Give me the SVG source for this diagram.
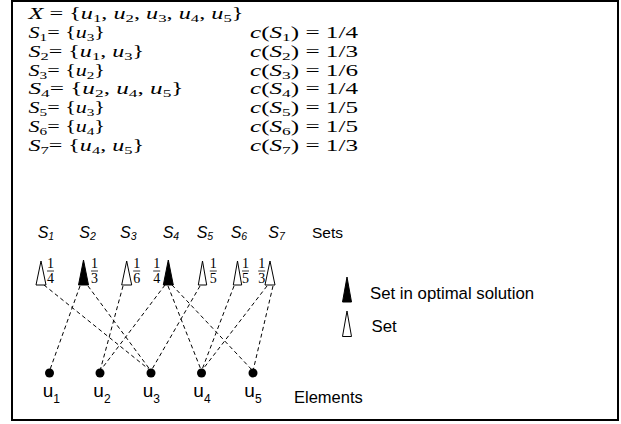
<svg xmlns="http://www.w3.org/2000/svg" width="621" height="424" viewBox="0 0 621 424">
<style>
.m{font-family:"Liberation Serif","Times New Roman",serif;font-size:16px;fill:#000}
.i{font-style:italic}
.sb{font-size:11px}
.sl{font-family:"Liberation Sans",Arial,sans-serif;font-style:italic;font-size:16px;fill:#000}
.sls{font-size:10.5px}
.fr{font-family:"Liberation Serif","Times New Roman",serif;font-size:14px;text-anchor:middle;fill:#000}
.bar{stroke:#000;stroke-width:0.8}
.tw{fill:#fff;stroke:#000;stroke-width:1}
.tb{fill:#000;stroke:#000;stroke-width:1}
.ul{font-family:"Liberation Sans",Arial,sans-serif;font-size:19px;fill:#000}
.uls{font-size:12px}
.lb{font-family:"Liberation Sans",Arial,sans-serif;font-size:16.5px;fill:#000}
.e{stroke:#000;stroke-width:1;stroke-dasharray:4,3;fill:none}
</style>
<rect x="12" y="1" width="606" height="419" fill="#fff" stroke="#000" stroke-width="2"/>

<g id="definitions">
<text class="m" x="28.5" y="19" textLength="215" lengthAdjust="spacingAndGlyphs"><tspan class="i">X</tspan> = {<tspan class="i">u</tspan><tspan class="sb" dy="3">1</tspan><tspan dy="-3">, </tspan><tspan class="i">u</tspan><tspan class="sb" dy="3">2</tspan><tspan dy="-3">, </tspan><tspan class="i">u</tspan><tspan class="sb" dy="3">3</tspan><tspan dy="-3">, </tspan><tspan class="i">u</tspan><tspan class="sb" dy="3">4</tspan><tspan dy="-3">, </tspan><tspan class="i">u</tspan><tspan class="sb" dy="3">5</tspan><tspan dy="-3">}</tspan></text>

<text class="m" x="28.5" y="37.9" textLength="76.5" lengthAdjust="spacingAndGlyphs"><tspan class="i">S</tspan><tspan class="sb" dy="3">1</tspan><tspan dy="-3">= {</tspan><tspan class="i">u</tspan><tspan class="sb" dy="3">3</tspan><tspan dy="-3">}</tspan></text>
<text class="m" x="28.5" y="56.7" textLength="115.5" lengthAdjust="spacingAndGlyphs"><tspan class="i">S</tspan><tspan class="sb" dy="3">2</tspan><tspan dy="-3">= {</tspan><tspan class="i">u</tspan><tspan class="sb" dy="3">1</tspan><tspan dy="-3">, </tspan><tspan class="i">u</tspan><tspan class="sb" dy="3">3</tspan><tspan dy="-3">}</tspan></text>
<text class="m" x="28.5" y="75.6" textLength="76.5" lengthAdjust="spacingAndGlyphs"><tspan class="i">S</tspan><tspan class="sb" dy="3">3</tspan><tspan dy="-3">= {</tspan><tspan class="i">u</tspan><tspan class="sb" dy="3">2</tspan><tspan dy="-3">}</tspan></text>
<text class="m" x="28.5" y="94.4" textLength="155" lengthAdjust="spacingAndGlyphs"><tspan class="i">S</tspan><tspan class="sb" dy="3">4</tspan><tspan dy="-3">= {</tspan><tspan class="i">u</tspan><tspan class="sb" dy="3">2</tspan><tspan dy="-3">, </tspan><tspan class="i">u</tspan><tspan class="sb" dy="3">4</tspan><tspan dy="-3">, </tspan><tspan class="i">u</tspan><tspan class="sb" dy="3">5</tspan><tspan dy="-3">}</tspan></text>
<text class="m" x="28.5" y="113.3" textLength="76.5" lengthAdjust="spacingAndGlyphs"><tspan class="i">S</tspan><tspan class="sb" dy="3">5</tspan><tspan dy="-3">= {</tspan><tspan class="i">u</tspan><tspan class="sb" dy="3">3</tspan><tspan dy="-3">}</tspan></text>
<text class="m" x="28.5" y="132.1" textLength="76.5" lengthAdjust="spacingAndGlyphs"><tspan class="i">S</tspan><tspan class="sb" dy="3">6</tspan><tspan dy="-3">= {</tspan><tspan class="i">u</tspan><tspan class="sb" dy="3">4</tspan><tspan dy="-3">}</tspan></text>
<text class="m" x="28.5" y="151" textLength="115.5" lengthAdjust="spacingAndGlyphs"><tspan class="i">S</tspan><tspan class="sb" dy="3">7</tspan><tspan dy="-3">= {</tspan><tspan class="i">u</tspan><tspan class="sb" dy="3">4</tspan><tspan dy="-3">, </tspan><tspan class="i">u</tspan><tspan class="sb" dy="3">5</tspan><tspan dy="-3">}</tspan></text>

<text class="m" x="250" y="37.9" textLength="108" lengthAdjust="spacingAndGlyphs"><tspan class="i">c</tspan>(<tspan class="i">S</tspan><tspan class="sb" dy="3">1</tspan><tspan dy="-3">) = 1/4</tspan></text>
<text class="m" x="250" y="56.7" textLength="108" lengthAdjust="spacingAndGlyphs"><tspan class="i">c</tspan>(<tspan class="i">S</tspan><tspan class="sb" dy="3">2</tspan><tspan dy="-3">) = 1/3</tspan></text>
<text class="m" x="250" y="75.6" textLength="108" lengthAdjust="spacingAndGlyphs"><tspan class="i">c</tspan>(<tspan class="i">S</tspan><tspan class="sb" dy="3">3</tspan><tspan dy="-3">) = 1/6</tspan></text>
<text class="m" x="250" y="94.4" textLength="108" lengthAdjust="spacingAndGlyphs"><tspan class="i">c</tspan>(<tspan class="i">S</tspan><tspan class="sb" dy="3">4</tspan><tspan dy="-3">) = 1/4</tspan></text>
<text class="m" x="250" y="113.3" textLength="108" lengthAdjust="spacingAndGlyphs"><tspan class="i">c</tspan>(<tspan class="i">S</tspan><tspan class="sb" dy="3">5</tspan><tspan dy="-3">) = 1/5</tspan></text>
<text class="m" x="250" y="132.1" textLength="108" lengthAdjust="spacingAndGlyphs"><tspan class="i">c</tspan>(<tspan class="i">S</tspan><tspan class="sb" dy="3">6</tspan><tspan dy="-3">) = 1/5</tspan></text>
<text class="m" x="250" y="151" textLength="108" lengthAdjust="spacingAndGlyphs"><tspan class="i">c</tspan>(<tspan class="i">S</tspan><tspan class="sb" dy="3">7</tspan><tspan dy="-3">) = 1/3</tspan></text>
</g>

<g id="connectors">
<line class="e" x1="44" y1="285" x2="151" y2="371"/>
<line class="e" x1="80" y1="286" x2="49.5" y2="371"/>
<line class="e" x1="88" y1="286" x2="151" y2="371"/>
<line class="e" x1="123" y1="286" x2="100" y2="371"/>
<line class="e" x1="165" y1="285" x2="100" y2="371"/>
<line class="e" x1="168" y1="286" x2="201.5" y2="371"/>
<line class="e" x1="172" y1="285" x2="253" y2="371"/>
<line class="e" x1="200" y1="286" x2="151" y2="371"/>
<line class="e" x1="234" y1="286" x2="201.5" y2="371"/>
<line class="e" x1="267" y1="286" x2="201.5" y2="371"/>
<line class="e" x1="273" y1="286" x2="253" y2="371"/>
</g>

<g id="S1">
<polygon class="tw" points="41,261 36,285 46,285"/>
<text class="sl" x="37.7" y="237.7">S<tspan class="sls" dy="2.5">1</tspan></text>
<text class="fr" x="50.5" y="268">1</text><line class="bar" x1="47" y1="271" x2="54" y2="271"/><text class="fr" x="50.5" y="282.5">4</text>
</g>
<g id="S2">
<polygon class="tb" points="83.5,260 78.5,285 88.5,285"/>
<text class="sl" x="79.3" y="237.7">S<tspan class="sls" dy="2.5">2</tspan></text>
<text class="fr" x="94.5" y="268">1</text><line class="bar" x1="91" y1="271" x2="98" y2="271"/><text class="fr" x="94.5" y="282.5">3</text>
</g>
<g id="S3">
<polygon class="tw" points="126.7,261 121.7,285 131.7,285"/>
<text class="sl" x="120" y="237.7">S<tspan class="sls" dy="2.5">3</tspan></text>
<text class="fr" x="136.7" y="268">1</text><line class="bar" x1="133.2" y1="271" x2="140.2" y2="271"/><text class="fr" x="136.7" y="282.5">6</text>
</g>
<g id="S4">
<polygon class="tb" points="168.3,260 163.3,285 173.3,285"/>
<text class="sl" x="162.7" y="237.7">S<tspan class="sls" dy="2.5">4</tspan></text>
<text class="fr" x="156.7" y="268">1</text><line class="bar" x1="153.2" y1="271" x2="160.2" y2="271"/><text class="fr" x="156.7" y="282.5">4</text>
</g>
<g id="S5">
<polygon class="tw" points="202.5,261 198.3,285 206.7,285"/>
<text class="sl" x="196.7" y="237.7">S<tspan class="sls" dy="2.5">5</tspan></text>
<text class="fr" x="213.3" y="268">1</text><line class="bar" x1="209.8" y1="271" x2="216.8" y2="271"/><text class="fr" x="213.3" y="282.5">5</text>
</g>
<g id="S6">
<polygon class="tw" points="237.5,261 233.3,285 241.7,285"/>
<text class="sl" x="230.7" y="237.7">S<tspan class="sls" dy="2.5">6</tspan></text>
<text class="fr" x="245.5" y="268">1</text><line class="bar" x1="242" y1="271" x2="249" y2="271"/><text class="fr" x="245.5" y="282.5">5</text>
</g>
<g id="S7">
<polygon class="tw" points="270,261 265,285 275,285"/>
<text class="sl" x="268.3" y="237.7">S<tspan class="sls" dy="2.5">7</tspan></text>
<text class="fr" x="261.7" y="268">1</text><line class="bar" x1="258.2" y1="271" x2="265.2" y2="271"/><text class="fr" x="261.7" y="282.5">3</text>
</g>
<text id="sets-label" class="lb" x="312" y="238" style="font-size:15.5px">Sets</text>

<g id="u1"><circle cx="49.5" cy="373" r="4.5"/><text class="ul" x="42.7" y="396.7">u<tspan class="uls" dy="6">1</tspan></text></g>
<g id="u2"><circle cx="100" cy="373" r="4.5"/><text class="ul" x="93.3" y="396.7">u<tspan class="uls" dy="6">2</tspan></text></g>
<g id="u3"><circle cx="151" cy="373" r="4.5"/><text class="ul" x="142.7" y="396.7">u<tspan class="uls" dy="6">3</tspan></text></g>
<g id="u4"><circle cx="201.5" cy="373" r="4.5"/><text class="ul" x="193.3" y="396.7">u<tspan class="uls" dy="6">4</tspan></text></g>
<g id="u5"><circle cx="253" cy="373" r="4.5"/><text class="ul" x="244.3" y="396.7">u<tspan class="uls" dy="6">5</tspan></text></g>
<text id="elements-label" class="lb" x="294" y="402.7">Elements</text>

<g id="legend">
<polygon class="tb" points="347,277 342.5,302 351.5,302"/>
<text class="lb" x="370" y="299" style="font-size:16.8px">Set in optimal solution</text>
<polygon class="tw" points="347,311 342.5,336.5 351.5,336.5"/>
<text class="lb" x="371.5" y="332" style="font-size:16.8px">Set</text>
</g>
</svg>
